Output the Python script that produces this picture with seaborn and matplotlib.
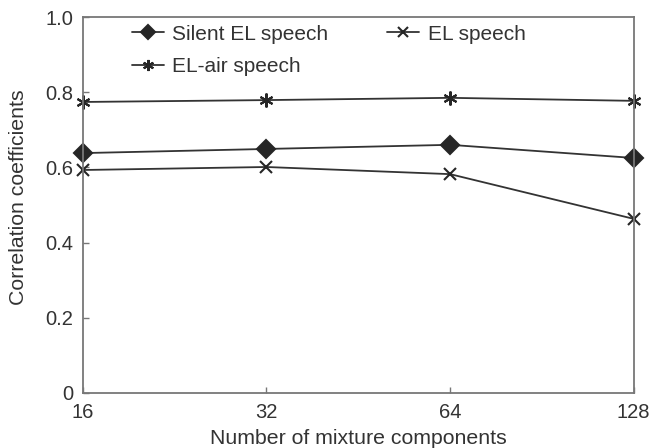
import matplotlib
matplotlib.use("Agg")
import matplotlib.pyplot as plt
import seaborn as sns
import pandas as pd
from matplotlib.lines import Line2D

mixtures = ["16", "32", "64", "128"]
silent_el = [0.638, 0.649, 0.660, 0.625]
el_speech = [0.593, 0.601, 0.582, 0.463]
el_air = [0.774, 0.779, 0.785, 0.777]
y_ticks = [0, 0.2, 0.4, 0.6, 0.8, 1.0]
y_tick_labels = ["0", "0.2", "0.4", "0.6", "0.8", "1.0"]

sns.set_theme(style="white")
plt.rcParams["font.family"] = ["Liberation Sans", "DejaVu Sans"]

series = [
    ("Silent EL speech", silent_el, "D", 9, 7),
    ("EL speech", el_speech, "x", 8, 7),
    ("EL-air speech", el_air, (6, 2, 0), 10, 8),
]
ink = "#262626"

fig = plt.figure(figsize=(6.52, 4.48), dpi=100)
ax = fig.add_axes([0.127, 0.123, 0.845, 0.839])

handles = {}
for name, vals, marker, ms, legend_ms in series:
    df = pd.DataFrame({"pos": range(len(mixtures)), "value": vals})
    sns.lineplot(data=df, x="pos", y="value", ax=ax, color="#333333",
                 linewidth=1.3, marker=marker, markersize=ms,
                 markerfacecolor=ink, markeredgecolor=ink,
                 markeredgewidth=1.5, clip_on=False)
    handles[name] = Line2D([], [], color="#333333", linewidth=1.3,
                           marker=marker, markersize=legend_ms,
                           markerfacecolor=ink, markeredgecolor=ink,
                           markeredgewidth=1.5)

ax.set_xlim(0, len(mixtures) - 1)
ax.set_ylim(0, 1.0)
ax.set_xticks(range(len(mixtures)))
ax.set_xticklabels(mixtures)
ax.set_yticks(y_ticks)
ax.set_yticklabels(y_tick_labels)
ax.tick_params(axis="both", direction="in", length=4, width=1,
               color="#777777", labelsize=14.5, labelcolor="#333333",
               bottom=True, left=True)
ax.tick_params(axis="y", pad=7)
ax.tick_params(axis="x", pad=7)

for side in ["left", "right", "top", "bottom"]:
    ax.spines[side].set_visible(True)
    ax.spines[side].set_color("#777777")
    ax.spines[side].set_linewidth(1.3)

ax.set_xlabel("Number of mixture components", fontsize=15.3,
              color="#333333", labelpad=5)
ax.set_ylabel("Correlation coefficients", fontsize=15.3,
              color="#333333")
ax.yaxis.set_label_coords(-0.10, 0.52)

order = ["Silent EL speech", "EL-air speech", "EL speech"]
ax.legend([handles[n] for n in order], order, ncol=2, frameon=False,
          loc="upper left", bbox_to_anchor=(0.089, 0.98), fontsize=15,
          borderpad=0, borderaxespad=0,
          handlelength=1.55, columnspacing=2.8, labelspacing=0.64,
          handletextpad=0.4, labelcolor="#333333")

fig.savefig("out.png", dpi=100)
